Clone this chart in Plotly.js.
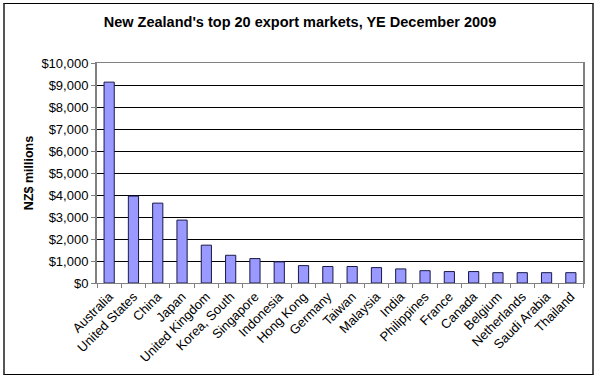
<!DOCTYPE html>
<html>
<head>
<meta charset="utf-8">
<script src="https://cdn.plot.ly/plotly-3.0.1.min.js"></script>
<style>
  html, body { margin: 0; padding: 0; background: #fff; }
  #wrap { position: relative; width: 600px; height: 381px; }
  #chart { width: 600px; height: 381px; }
  #frame { position: absolute; left: 3px; top: 3px; width: 587px; height: 370px;
           border-top: 1px solid #000; border-bottom: 1px solid #000;
           border-left: 2px solid #555; border-right: 2px solid #555; pointer-events: none; }
</style>
</head>
<body>
<div id="wrap">
  <div id="chart"></div>
  <div id="frame"></div>
</div>
<script>
const countries = ["Australia", "United States", "China", "Japan", "United Kingdom",
  "Korea, South", "Singapore", "Indonesia", "Hong Kong", "Germany", "Taiwan",
  "Malaysia", "India", "Philippines", "France", "Canada", "Belgium",
  "Netherlands", "Saudi Arabia", "Thailand"];
const exportsNZD = [9130, 3950, 3630, 2860, 1720, 1260, 1110, 960, 790, 750, 750,
  700, 640, 560, 520, 520, 470, 470, 470, 470];
const yTickVals = [0, 1000, 2000, 3000, 4000, 5000, 6000, 7000, 8000, 9000, 10000];
const yTickText = ["$0", "$1,000", "$2,000", "$3,000", "$4,000", "$5,000", "$6,000",
  "$7,000", "$8,000", "$9,000", "$10,000"];

const font = "Liberation Sans, Arial, sans-serif";

Plotly.newPlot("chart", [{
  type: "bar",
  x: countries,
  y: exportsNZD,
  marker: { color: "#9999ff", line: { color: "#1a1a4a", width: 1 } },
  hoverinfo: "x+y"
}], {
  width: 600, height: 381,
  margin: { l: 97, r: 17, t: 63, b: 98 },
  paper_bgcolor: "rgba(0,0,0,0)",
  plot_bgcolor: "#fff",
  bargap: 0.58,
  showlegend: false,
  title: {
    text: "<b>New Zealand's top 20 export markets, YE December 2009</b>",
    font: { family: font, size: 14.5, color: "#000" },
    x: 0.5, xanchor: "center", y: 0.942, yanchor: "middle"
  },
  xaxis: {
    type: "category",
    tickangle: -45,
    tickson: "boundaries",
    ticks: "outside", ticklen: 4, tickcolor: "#808080",
    showline: true, linecolor: "#808080", linewidth: 1, mirror: true,
    showgrid: false,
    tickfont: { family: font, size: 13, color: "#000" }
  },
  yaxis: {
    range: [0, 10000],
    tickvals: yTickVals, ticktext: yTickText,
    ticks: "outside", ticklen: 4, tickcolor: "#808080",
    showline: true, linecolor: "#808080", linewidth: 2, mirror: true,
    showgrid: true, gridcolor: "#000", gridwidth: 1,
    zeroline: false,
    tickfont: { family: font, size: 13, color: "#000" },
    title: { text: "<b>NZ$ millions</b>", font: { family: font, size: 12.5, color: "#000" }, standoff: 5 }
  }
}, { displayModeBar: false, staticPlot: true });
</script>
</body>
</html>
